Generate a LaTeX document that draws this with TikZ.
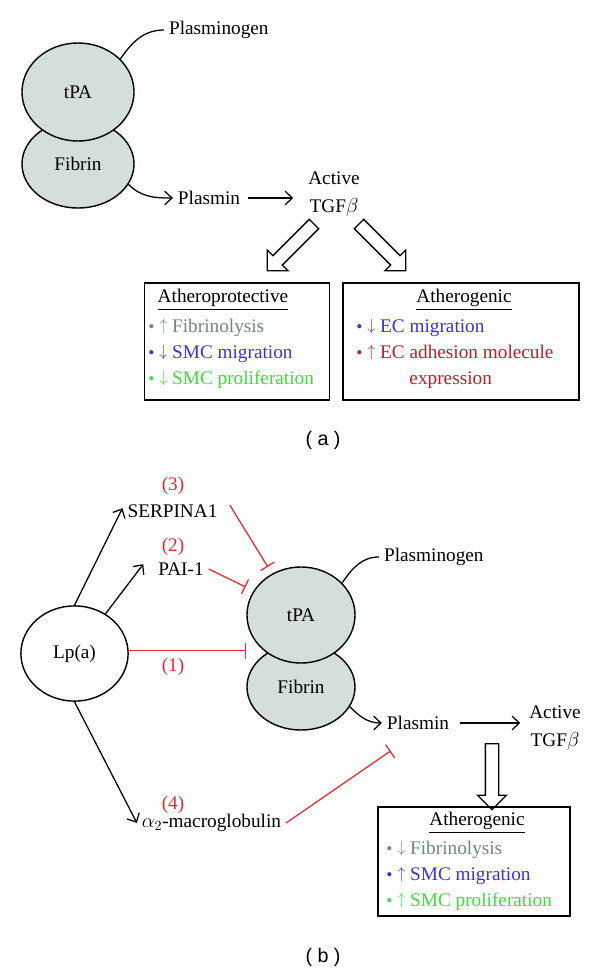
\documentclass[tikz,border=0pt]{standalone}
\usepackage{amsmath,amssymb}
\usepackage{fontspec}
\setmainfont{Liberation Serif}
\setsansfont{Liberation Sans}
\usepackage{tikz}
\usetikzlibrary{arrows.meta,shapes.geometric,shapes.arrows}

\definecolor{cellgray}{RGB}{212,222,219}
\definecolor{txtgray}{RGB}{110,135,130}
\definecolor{txtblue}{RGB}{62,48,218}
\definecolor{txtgreen}{RGB}{60,222,60}
\definecolor{txtred}{RGB}{190,28,40}
\definecolor{inhred}{RGB}{235,40,45}

\newcommand{\bul}{{\fontsize{12.5}{12}\selectfont\textbullet}}
\newcommand{\incr}{\raisebox{0.2ex}{\scalebox{0.8}{$\uparrow$}}}
\newcommand{\decr}{\raisebox{0.2ex}{\scalebox{0.8}{$\downarrow$}}}

\begin{document}
\begin{tikzpicture}[x=0.025cm,y=-0.025cm,
    font=\fontsize{13.7}{18.5}\selectfont,
    cell/.style={ellipse,draw,line width=1pt,fill=cellgray,inner sep=0pt},
    lbl/.style={inner sep=0.12cm},
    num/.style={inner sep=0pt,text=inhred},
    act/.style={-{Straight Barb[length=1.8mm,width=3.4mm]},line width=0.9pt},
    inh/.style={draw=inhred,line width=0.9pt,-{Bar[width=4mm]}},
    hollow/.style={single arrow,draw,line width=0.9pt,fill=white,inner xsep=0pt,
        inner ysep=0.15cm,single arrow head extend=0.2cm,single arrow tip angle=90,
        minimum height=1.65cm},
    box/.style={draw,line width=0.9pt,inner sep=0pt},
    lst/.style={align=left,inner sep=0pt,anchor=west},
    panellbl/.style={font=\sffamily\fontsize{14}{16}\selectfont}]
    \useasboundingbox (0,0) rectangle (600,975);

    % (a)
    \node[cell,minimum width=2.8cm,minimum height=2.2cm] (fibA) at (78,164) {Fibrin};
    \node[cell,minimum width=2.8cm,minimum height=2.45cm] (tpaA) at (78,92) {tPA};
    \node[lbl,anchor=west] (plgA) at (164,30) {Plasminogen};
    \node[lbl] (plmA) at (209,198) {Plasmin};
    \node[lbl,align=center] (tgfA) at (334,194) {Active\\[1pt]TGF$\beta$};
    \draw[line width=0.9pt] (tpaA.38) to[out=55,in=180] (plgA.west);
    \draw[act] (fibA.-22) to[out=-45,in=180] (plmA.west);
    \draw[act,shorten <=2pt,shorten >=0.25cm] (plmA.east) -- (plmA.east -| tgfA.west);
    \node[hollow,rotate=-135] (hlA) at (293,245) {};
    \node[hollow,rotate=-45] (hrA) at (380,245) {};

    \node[box,minimum width=4.63cm,minimum height=2.93cm] (protBoxA) at (237,341.5) {};
    \node[inner sep=0pt] (protTtlA) at (223,300) {\underline{Atheroprotective}};
    \node[lst] (protLstA) at (148,354) {\textcolor{txtgray}{\bul\ \incr\ Fibrinolysis}\\
        \textcolor{txtblue}{\bul\ \decr\ SMC migration}\\
        \textcolor{txtgreen}{\bul\ \decr\ SMC proliferation}};
    \node[box,minimum width=5.9cm,minimum height=2.93cm] (genBoxA) at (461,341.5) {};
    \node[inner sep=0pt] (genTtlA) at (464,300) {\underline{Atherogenic}};
    \node[lst] (genLstA) at (356,354) {\textcolor{txtblue}{\bul} \textcolor{txtred}{\decr}
        \textcolor{txtblue}{EC migration}\\
        \textcolor{txtred}{\bul\ \incr\ EC adhesion molecule}\\
        \hspace*{1.33cm}\textcolor{txtred}{expression}};
    \node[panellbl] (capA) at (323,440) {( a )};

    % (b)
    \node[cell,fill=white,minimum width=2.68cm,minimum height=2.38cm] (lpa) at (74.5,653.5) {Lp(a)};
    \node[cell,minimum width=2.7cm,minimum height=2.15cm] (fibB) at (301,687) {Fibrin};
    \node[cell,minimum width=2.7cm,minimum height=2.4cm] (tpaB) at (301,615) {tPA};
    \node[lbl,anchor=west] (plgB) at (379,557) {Plasminogen};
    \node[lbl] (serp) at (172.5,511) {SERPINA1};
    \node[lbl] (pai) at (181,569) {PAI-1};
    \node[lbl] (mac) at (211.5,823) {$\alpha_2$-macroglobulin};
    \node[num] (n3) at (173,486) {(3)};
    \node[num] (n2) at (173,547) {(2)};
    \node[num] (n1) at (173,667) {(1)};
    \node[num] (n4) at (173,805) {(4)};
    \node[lbl] (plmB) at (418,723) {Plasmin};
    \node[lbl,align=center] (tgfB) at (555,728) {Active\\[1pt]TGF$\beta$};

    \draw[act] (lpa.north) -- ([yshift=2pt]serp.west);
    \draw[act] (lpa.52) -- ([xshift=-0.25cm,yshift=0.12cm]pai.west);
    \draw[act] (lpa.south) -- (mac.west);
    \draw[inh,shorten >=0.2cm] ([xshift=0.18cm,yshift=0.15cm]serp.east) -- (tpaB.125);
    \draw[inh,shorten >=0.22cm] (pai.east) -- (tpaB.153);
    \draw[inh] ([yshift=2pt]lpa.east) -- ([yshift=2pt]lpa.east -| tpaB.west);
    \draw[inh] (mac.east) -- ([xshift=0.22cm,yshift=-0.4cm]plmB.south west);
    \draw[line width=0.9pt] (tpaB.38) to[out=55,in=180] (plgB.west);
    \draw[act] (fibB.-22) to[out=-45,in=180] (plmB.west);
    \draw[act,shorten <=0.15cm,shorten >=0.1cm] (plmB.east) -- (plmB.east -| tgfB.west);
    \node[hollow,rotate=-90] (hdB) at (492,773.5) {};

    \node[box,minimum width=4.8cm,minimum height=2.73cm] (genBoxB) at (474,861.5) {};
    \node[inner sep=0pt] (genTtlB) at (477,823) {\underline{Atherogenic}};
    \node[lst] (genLstB) at (386,876) {\textcolor{txtgray}{\bul\ \decr\ Fibrinolysis}\\
        \textcolor{txtblue}{\bul\ \incr\ SMC migration}\\
        \textcolor{txtgreen}{\bul\ \incr\ SMC proliferation}};
    \node[panellbl] (capB) at (323,957) {( b )};
\end{tikzpicture}
\end{document}
